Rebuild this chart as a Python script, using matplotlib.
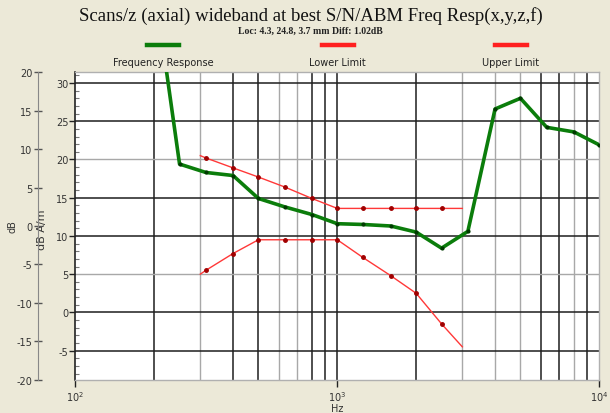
import matplotlib
matplotlib.use("Agg")
import matplotlib.pyplot as plt
from matplotlib.lines import Line2D
from matplotlib.ticker import FixedLocator, MultipleLocator, NullFormatter

plt.rcParams["axes.unicode_minus"] = False

# data
resp_hz = [200, 250, 315, 400, 500, 630, 800, 1000, 1250, 1600, 2000, 2500, 3150, 4000, 5000, 6300, 8000, 10000]
resp_db = [43.0, 19.4, 18.3, 17.9, 14.9, 13.8, 12.8, 11.6, 11.5, 11.3, 10.5, 8.4, 10.6, 26.6, 28.0, 24.2, 23.6, 21.9]

limit_hz = [300, 315, 400, 500, 630, 800, 1000, 1250, 1600, 2000, 2500, 3000]
lower_db = [5.0, 5.5, 7.7, 9.5, 9.5, 9.5, 9.5, 7.2, 4.8, 2.5, -1.5, -4.5]
upper_db = [20.5, 20.2, 18.9, 17.7, 16.4, 14.9, 13.6, 13.6, 13.6, 13.6, 13.6, 13.6]

legend_names = ["Frequency Response", "Lower Limit", "Upper Limit"]
legend_colors = ["#0b7d0b", "#ff2020", "#ff2020"]

vgrid_dark = [200, 400, 500, 800, 900, 1000, 2000, 6000, 7000, 9000]
vgrid_light = [300, 600, 700, 3000, 4000, 5000, 8000]
hgrid_dark = [30, 25, 15, 10, 0, -5]
hgrid_light = [20, 5]

bg = "#ECE9D8"
txt = "#333333"

fig = plt.figure(figsize=(6.1, 4.14), dpi=100, facecolor=bg)
ax = fig.add_axes([0.1234, 0.0804, 0.8591, 0.7426])
ax.set_facecolor("white")
ax.set_xscale("log")
ax.set_xlim(100, 10000)

# grid
for f in vgrid_dark:
    ax.axvline(f, color="#1e1e1e", lw=1.1, zorder=1)
for f in vgrid_light:
    ax.axvline(f, color="#a8a8a8", lw=1.0, zorder=1)
for v in hgrid_dark:
    ax.axhline(v, color="#1e1e1e", lw=1.1, zorder=1)
for v in hgrid_light:
    ax.axhline(v, color="#a8a8a8", lw=1.0, zorder=1)

# series
ax.plot(limit_hz, lower_db, color="#ff3838", lw=1.0, marker="o", ms=2.5,
        mfc="#a00000", mec="#a00000", markevery=slice(1, -1), zorder=3)
ax.plot(limit_hz, upper_db, color="#ff3838", lw=1.0, marker="o", ms=2.5,
        mfc="#a00000", mec="#a00000", markevery=slice(1, -1), zorder=3)
ax.plot(resp_hz, resp_db, color="#0b7d0b", lw=2.6, marker="o", ms=2,
        mfc="#003a00", mec="#003a00", zorder=4)

# axes styling
for s in ["top", "right", "bottom"]:
    ax.spines[s].set_color("#b0b0b0")
    ax.spines[s].set_linewidth(1.0)
ax.spines["left"].set_color("#222222")
ax.spines["left"].set_linewidth(1.2)

ax.xaxis.set_major_locator(FixedLocator([100, 1000, 10000]))
ax.set_xticklabels([r"10$^2$", r"10$^3$", r"10$^4$"])
ax.xaxis.set_minor_formatter(NullFormatter())
ax.tick_params(axis="x", which="major", direction="out", length=5, width=1,
               colors="#222222", labelcolor=txt, labelsize=7, pad=2)
ax.tick_params(axis="x", which="minor", length=0)

ax.yaxis.set_major_locator(MultipleLocator(5))
ax.yaxis.set_minor_locator(MultipleLocator(1))
ax.tick_params(axis="y", which="major", direction="out", length=4, width=1,
               colors="#222222", labelcolor=txt, labelsize=7, pad=1)
ax.tick_params(axis="y", which="minor", direction="in", length=3, width=0.8,
               colors="#777777")
ax.set_ylim(-8.8, 31.4)
ax.set_xlabel("Hz", fontsize=7, color=txt, labelpad=0)
ax.set_ylabel("dB A/m", fontsize=8, color=txt)
ax.yaxis.set_label_coords(-0.054, 0.49)

# outer dB axis
ax2 = ax.twinx()
ax2.patch.set_visible(False)
ax2.set_ylim(-20, 20)
for s in ["top", "right", "bottom"]:
    ax2.spines[s].set_visible(False)
ax2.spines["left"].set_visible(True)
ax2.spines["left"].set_position(("outward", 27))
ax2.spines["left"].set_color("#888888")
ax2.yaxis.set_ticks_position("left")
ax2.yaxis.set_label_position("left")
ax2.yaxis.set_major_locator(MultipleLocator(5))
ax2.tick_params(axis="y", direction="inout", length=6, width=1,
                colors="#555555", labelcolor=txt, labelsize=7, pad=1)
ax2.set_ylabel("dB", fontsize=7, color=txt)
ax2.yaxis.set_label_coords(-0.11, 0.5)

# titles
fig.text(0.51, 1 - 16 / 414, "Scans/z (axial) wideband at best S/N/ABM Freq Resp(x,y,z,f)",
         ha="center", va="center", family="Liberation Serif", fontsize=13.5, color="#111111")
fig.text(0.509, 1 - 31 / 414, "Loc: 4.3, 24.8, 3.7 mm Diff: 1.02dB",
         ha="center", va="center", family="Liberation Serif", fontweight="bold",
         fontsize=7, color="#222222")

# legend above plot: swatch over label
for name, col, xc in zip(legend_names, legend_colors, [163, 337.5, 511]):
    x0 = (xc - 16) / 610
    x1 = (xc + 16) / 610
    yl = 1 - 46 / 414
    fig.add_artist(Line2D([x0, x1], [yl, yl], color=col, lw=3.2, transform=fig.transFigure))
    fig.text(xc / 610, 1 - 63 / 414, name, ha="center", va="center", fontsize=7, color="#222222")

fig.savefig("out.png", dpi=100, facecolor=bg)
